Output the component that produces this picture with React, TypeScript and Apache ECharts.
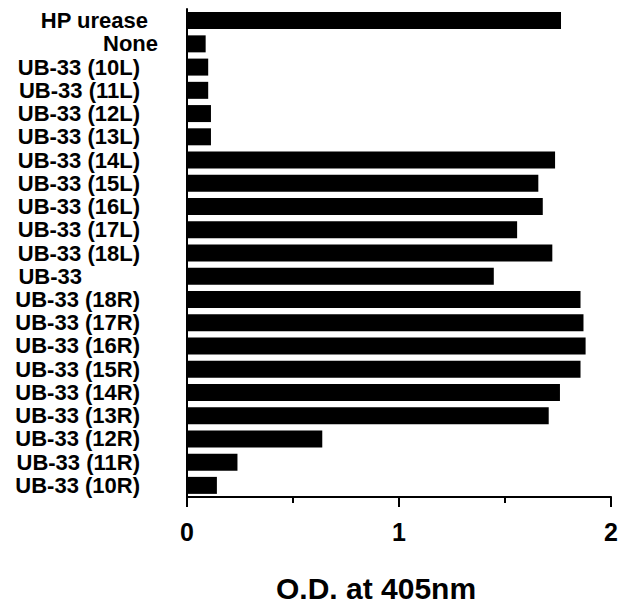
import React, { useEffect, useRef } from "react";
import * as echarts from "echarts";

const categories = [
  "HP urease", "None",
  "UB-33 (10L)", "UB-33 (11L)", "UB-33 (12L)", "UB-33 (13L)", "UB-33 (14L)",
  "UB-33 (15L)", "UB-33 (16L)", "UB-33 (17L)", "UB-33 (18L)",
  "UB-33",
  "UB-33 (18R)", "UB-33 (17R)", "UB-33 (16R)", "UB-33 (15R)", "UB-33 (14R)",
  "UB-33 (13R)", "UB-33 (12R)", "UB-33 (11R)", "UB-33 (10R)",
];
const odValues = [
  1.764, 0.088,
  0.100, 0.100, 0.113, 0.113, 1.736,
  1.657, 1.678, 1.557, 1.723,
  1.447,
  1.856, 1.870, 1.880, 1.856, 1.759,
  1.706, 0.638, 0.238, 0.141,
];
const xTicks = [0, 1, 2];
const xAxisTitle = "O.D. at 405nm";

export default function App() {
  const ref = useRef<HTMLDivElement>(null);
  useEffect(() => {
    if (!ref.current) return;
    const chart = echarts.init(ref.current, null, { renderer: "svg" });
    const font = "'Liberation Sans', Arial, Helvetica, sans-serif";
    const lbl = { color: "#000", fontSize: 22, lineHeight: 19, fontWeight: "bold", fontFamily: font };
    chart.setOption({
      animation: false,
      backgroundColor: "#ffffff",
      grid: { left: 187, right: 8, top: 9, bottom: 102, containLabel: false },
      xAxis: {
        type: "value",
        min: xTicks[0],
        max: xTicks[xTicks.length - 1],
        interval: 1,
        splitLine: { show: false },
        axisLine: { show: true, lineStyle: { color: "#000", width: 2 } },
        axisTick: { show: true, length: 10, lineStyle: { color: "#000", width: 2 } },
        minorTick: { show: true, splitNumber: 2, length: 6, lineStyle: { color: "#000", width: 2 } },
        axisLabel: {
          margin: 22,
          color: "#000",
          fontSize: 25,
          fontWeight: "bold",
          fontFamily: font,
        },
        name: xAxisTitle,
        nameLocation: "middle",
        nameGap: 76,
        nameTextStyle: {
          color: "#000",
          fontSize: 30,
          fontWeight: "bold",
          fontFamily: font,
          padding: [0, 46, 0, 0],
        },
      },
      yAxis: {
        type: "category",
        data: categories,
        inverse: true,
        axisLine: { show: true, lineStyle: { color: "#000", width: 2 } },
        axisTick: { show: false },
        splitLine: { show: false },
        axisLabel: {
          margin: 29,
          interval: 0,
          formatter: (v: string) => {
            if (v === "None") return "{n|" + v + "}";
            if (v === "HP urease") return "{h|" + v + "}";
            if (v === "UB-33") return "{b|" + v + "}";
            return "{u|" + v + "}";
          },
          rich: {
            n: { ...lbl },
            h: { ...lbl, padding: [0, 10, 0, 0] },
            b: { ...lbl, padding: [0, 76, 0, 0] },
            u: { ...lbl, padding: [0, 18, 0, 0] },
          },
        },
      },
      series: [
        {
          type: "bar",
          data: odValues,
          barWidth: 17,
          itemStyle: { color: "#000" },
        },
      ],
    });
    return () => chart.dispose();
  }, []);
  return <div ref={ref} style={{ width: 621, height: 608, position: "absolute", left: 0, top: 0 }} />;
}
